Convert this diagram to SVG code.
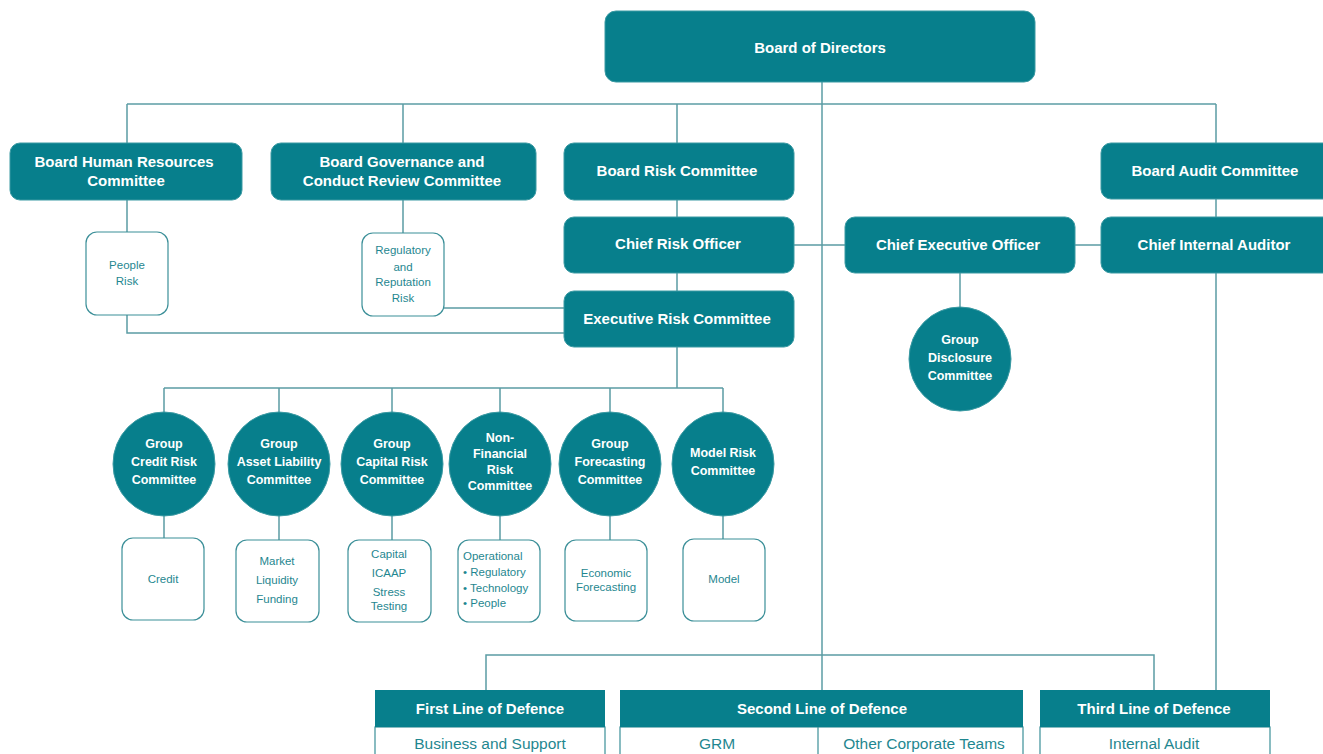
<svg xmlns="http://www.w3.org/2000/svg" width="1323" height="754" viewBox="0 0 1323 754">
<style>
.b{fill:#077f8c;stroke:#3b9aa3;stroke-width:1}
.t{font-family:"Liberation Sans",Arial,sans-serif;font-weight:bold;fill:#fff;text-anchor:middle;font-size:15px}
.c{font-family:"Liberation Sans",Arial,sans-serif;font-weight:bold;fill:#fff;text-anchor:middle;font-size:12.5px}
.w{fill:#fff;stroke:#3b8f98;stroke-width:1.2}
.s{font-family:"Liberation Sans",Arial,sans-serif;fill:#1f8790;text-anchor:middle;font-size:11.5px}
.sl{font-family:"Liberation Sans",Arial,sans-serif;fill:#1f8790;text-anchor:start;font-size:11.5px}
.f{font-family:"Liberation Sans",Arial,sans-serif;fill:#1f8790;text-anchor:middle;font-size:15.5px}
.l{fill:none;stroke:#5b9ca4;stroke-width:1.5}
</style>
<rect width="1323" height="754" fill="#fff"/>
<g id="connectors" class="l">
<path d="M127 104H1216"/>
<path d="M822 82V690"/>
<path d="M127 104V143M403 104V143M677 104V143M1216 104V143"/>
<path d="M677 200V217M677 273V291M677 347V388"/>
<path d="M1216 199V217M1216 273V690"/>
<path d="M794 245H845M1075 245H1101"/>
<path d="M960 273V308"/>
<path d="M127 200V232M127 315V333H564"/>
<path d="M403 200V233M444 308H564"/>
<path d="M164 388H723M164 388V412M279 388V412M392 388V412M500 388V412M610 388V412M723 388V412"/>
<path d="M164 516V538M279 516V540M392 516V540M500 516V540M610 516V540M723 516V539"/>
<path d="M486 690V655H1154V690"/>
</g>
<g id="board-of-directors"><rect class="b" x="605" y="11" width="430" height="71" rx="11"/><text class="t" x="820" y="53" font-size="17">Board of Directors</text></g>
<g id="board-hr"><rect class="b" x="10" y="143" width="232" height="57" rx="10"/><text class="t" x="124" y="167">Board Human Resources</text><text class="t" x="126" y="186">Committee</text></g>
<g id="board-governance"><rect class="b" x="271" y="143" width="265" height="57" rx="10"/><text class="t" x="402" y="167">Board Governance and</text><text class="t" x="402" y="186">Conduct Review Committee</text></g>
<g id="board-risk"><rect class="b" x="564" y="143" width="230" height="57" rx="10"/><text class="t" x="677" y="176">Board Risk Committee</text></g>
<g id="board-audit"><rect class="b" x="1101" y="143" width="240" height="56" rx="10"/><text class="t" x="1215" y="176">Board Audit Committee</text></g>
<g id="cro"><rect class="b" x="564" y="217" width="230" height="56" rx="10"/><text class="t" x="678" y="249">Chief Risk Officer</text></g>
<g id="ceo"><rect class="b" x="845" y="217" width="230" height="56" rx="10"/><text class="t" x="958" y="250">Chief Executive Officer</text></g>
<g id="cia"><rect class="b" x="1101" y="217" width="240" height="56" rx="10"/><text class="t" x="1214" y="250">Chief Internal Auditor</text></g>
<g id="exec-risk"><rect class="b" x="564" y="291" width="230" height="56" rx="10"/><text class="t" x="677" y="324">Executive Risk Committee</text></g>
<g id="people-risk"><rect class="w" x="86" y="232" width="82" height="83" rx="11"/><text class="s" x="127" y="269">People</text><text class="s" x="127" y="285">Risk</text></g>
<g id="reg-risk"><rect class="w" x="362" y="233" width="82" height="83" rx="11"/><text class="s" x="403" y="254">Regulatory</text><text class="s" x="403" y="271">and</text><text class="s" x="403" y="286">Reputation</text><text class="s" x="403" y="302">Risk</text></g>
<g id="group-disclosure"><ellipse class="b" cx="960" cy="359" rx="51" ry="52"/><text class="c" x="960" y="344">Group</text><text class="c" x="960" y="362">Disclosure</text><text class="c" x="960" y="380">Committee</text></g>
<g id="credit-committee"><ellipse class="b" cx="164" cy="464" rx="51" ry="52"/><text class="c" x="164" y="448">Group</text><text class="c" x="164" y="466">Credit Risk</text><text class="c" x="164" y="484">Committee</text></g>
<g id="alco"><ellipse class="b" cx="279" cy="464" rx="51" ry="52"/><text class="c" x="279" y="448">Group</text><text class="c" x="279" y="466">Asset Liability</text><text class="c" x="279" y="484">Committee</text></g>
<g id="capital-committee"><ellipse class="b" cx="392" cy="464" rx="51" ry="52"/><text class="c" x="392" y="448">Group</text><text class="c" x="392" y="466">Capital Risk</text><text class="c" x="392" y="484">Committee</text></g>
<g id="nfr-committee"><ellipse class="b" cx="500" cy="464" rx="51" ry="52"/><text class="c" x="500" y="442">Non-</text><text class="c" x="500" y="458">Financial</text><text class="c" x="500" y="474">Risk</text><text class="c" x="500" y="490">Committee</text></g>
<g id="forecasting-committee"><ellipse class="b" cx="610" cy="464" rx="51" ry="52"/><text class="c" x="610" y="448">Group</text><text class="c" x="610" y="466">Forecasting</text><text class="c" x="610" y="484">Committee</text></g>
<g id="model-committee"><ellipse class="b" cx="723" cy="464" rx="51" ry="52"/><text class="c" x="723" y="457">Model Risk</text><text class="c" x="723" y="475">Committee</text></g>
<g id="credit"><rect class="w" x="122" y="538" width="82" height="82" rx="11"/><text class="s" x="163" y="583">Credit</text></g>
<g id="market"><rect class="w" x="236" y="540" width="83" height="82" rx="11"/><text class="s" x="277" y="565">Market</text><text class="s" x="277" y="584">Liquidity</text><text class="s" x="277" y="603">Funding</text></g>
<g id="capital"><rect class="w" x="348" y="540" width="83" height="82" rx="11"/><text class="s" x="389" y="558">Capital</text><text class="s" x="389" y="577">ICAAP</text><text class="s" x="389" y="596">Stress</text><text class="s" x="389" y="610">Testing</text></g>
<g id="operational"><rect class="w" x="458" y="540" width="82" height="82" rx="11"/><text class="sl" x="463" y="560">Operational</text><text class="sl" x="463" y="576">• Regulatory</text><text class="sl" x="463" y="592">• Technology</text><text class="sl" x="463" y="607">• People</text></g>
<g id="economic"><rect class="w" x="565" y="540" width="82" height="81" rx="11"/><text class="s" x="606" y="577">Economic</text><text class="s" x="606" y="591">Forecasting</text></g>
<g id="model"><rect class="w" x="683" y="539" width="82" height="82" rx="11"/><text class="s" x="724" y="583">Model</text></g>
<g id="first-line"><rect x="375" y="727" width="230" height="40" fill="#fff" stroke="#3b8f98" stroke-width="1.2"/><rect x="375" y="690" width="230" height="37" fill="#077f8c"/><text class="t" x="490" y="714">First Line of Defence</text><text class="f" x="490" y="749">Business and Support</text></g>
<g id="second-line"><rect x="620" y="727" width="403" height="40" fill="#fff" stroke="#3b8f98" stroke-width="1.2"/><path d="M818 727V754" stroke="#3b8f98" stroke-width="1.2"/><rect x="620" y="690" width="403" height="37" fill="#077f8c"/><text class="t" x="822" y="714">Second Line of Defence</text><text class="f" x="717" y="749">GRM</text><text class="f" x="924" y="749">Other Corporate Teams</text></g>
<g id="third-line"><rect x="1040" y="727" width="230" height="40" fill="#fff" stroke="#3b8f98" stroke-width="1.2"/><rect x="1040" y="690" width="230" height="37" fill="#077f8c"/><text class="t" x="1154" y="714">Third Line of Defence</text><text class="f" x="1154" y="749">Internal Audit</text></g>
</svg>
